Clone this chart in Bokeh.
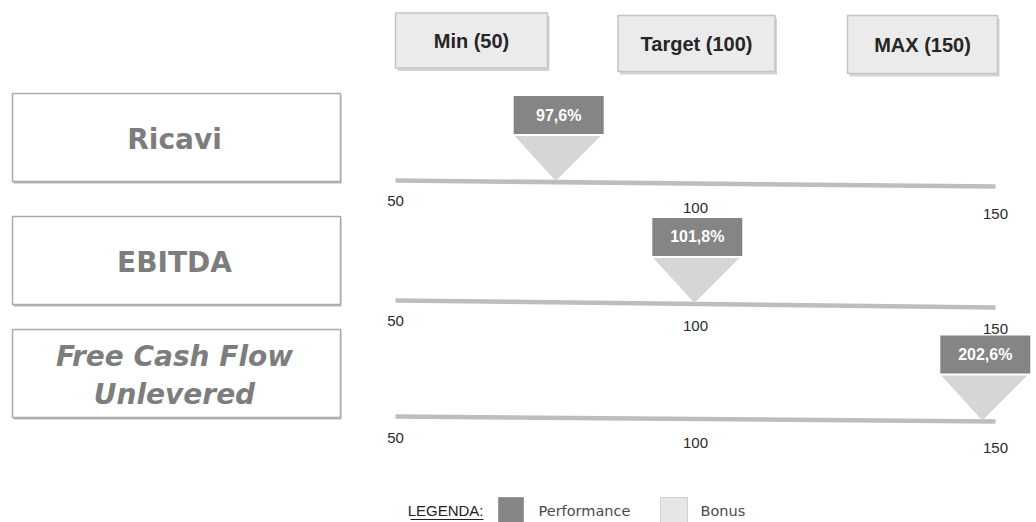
from bokeh.plotting import figure
from bokeh.models import Range1d
from bokeh.embed import file_html
from bokeh.resources import INLINE
from bokeh.core.properties import value

# ---------------- data ----------------
metrics = ["Ricavi", "EBITDA", "Free Cash Flow\nUnlevered"]
performance_labels = ["97,6%", "101,8%", "202,6%"]
bonus_positions = [76.7, 99.8, 147.8]
scale_ticks = [50, 100, 150]
tick_labels = ["50", "100", "150"]
header_labels = ["Min (50)", "Target (100)", "MAX (150)"]
legend_labels = ["Performance", "Bonus"]

# ---------------- layout / style ----------------
W, H = 1036, 522
DARK = "#858585"
LIGHT = "#d6d6d6"
LINE = "#bdbdbd"
PX = 6.0  # pixels per scale unit

def xv(px):
    # convert a horizontal page position into scale units (layout helper)
    return 50 + (px - 395) / PX

p = figure(width=W, height=H, output_backend="svg", toolbar_location=None,
           x_range=Range1d(xv(0), xv(W)), y_range=Range1d(H, 0),
           min_border=0, outline_line_color=None)
p.axis.visible = False
p.grid.visible = False
p.background_fill_color = "white"

# header boxes
header_x = [xv(471), xv(696), xv(922)]
header_y = [40, 43, 44]
header_w = [152, 157, 150]
header_h = [55, 56, 58]
p.rect(x=[x + 2 / PX for x in header_x], y=[y + 3 for y in header_y], width=header_w, height=header_h,
       width_units="screen", height_units="screen", fill_color="#d4d4d4", line_color=None)
p.rect(x=header_x, y=header_y, width=header_w, height=header_h,
       width_units="screen", height_units="screen", fill_color="#ebebeb", line_color="#c4c4c4", line_width=1.5)
p.text(x=header_x, y=header_y, text=header_labels, text_align="center", text_baseline="middle",
       text_font=value("Liberation Sans"), text_font_style="bold", text_font_size="20px",
       text_color="#262626")

# left metric boxes
box_y = [137, 260, 373]
p.rect(x=[xv(177)] * 3, y=[y + 2 for y in box_y], width=328, height=88,
       width_units="screen", height_units="screen", fill_color="#b5b5b5", line_color=None)
p.rect(x=[xv(176)] * 3, y=box_y, width=328, height=88,
       width_units="screen", height_units="screen", fill_color="white", line_color="#ababab", line_width=1.5)
styles = ["bold", "bold", "bold italic"]
for m, y, s in zip(metrics, box_y, styles):
    p.text(x=[xv(174)], y=[y + 2], text=[m], text_align="center", text_baseline="middle",
           text_font=value("DejaVu Sans"), text_font_style=s, text_font_size="28px",
           text_color="#7d7d7d", text_line_height=1.15)

# scale tracks (slightly tilted like the scanned original)
track_y0 = [180, 300, 416]
track_y1 = [186, 307, 421]
for y0, y1 in zip(track_y0, track_y1):
    p.line(x=[scale_ticks[0], scale_ticks[-1]], y=[y0, y1], line_color=LINE, line_width=4.5)

# tick labels under each track
label_dy = [[20, 27, 33], [20, 25, 28], [21, 26, 31]]
for y0, dys in zip(track_y0, label_dy):
    p.text(x=scale_ticks, y=[y0 + d for d in dys], text=tick_labels, text_align="center",
           text_baseline="middle", text_font=value("Liberation Sans"), text_font_size="15px",
           text_color="#2a2a2a")

# bonus triangles and performance boxes
TRI_H, BOX_H, BOX_W, GAP = 45, 38, 90, 2
for v, lab, y0, y1 in zip(bonus_positions, performance_labels, track_y0, track_y1):
    tip_y = y0 + (y1 - y0) * (v - 50) / 100 - 1
    top_y = tip_y - TRI_H
    half = (BOX_W - 4) / 2 / PX
    p.patch(x=[v - half + 2 / PX, v + half + 2 / PX, v], y=[top_y, top_y, tip_y],
            fill_color=LIGHT, line_color=None)
    box_c = top_y - GAP - BOX_H / 2
    bx = v + 3 / PX
    p.rect(x=[bx], y=[box_c], width=BOX_W, height=BOX_H, width_units="screen", height_units="screen",
           fill_color=DARK, line_color=None)
    p.text(x=[bx], y=[box_c], text=[lab], text_align="center", text_baseline="middle",
           text_font=value("Liberation Sans"), text_font_style="bold", text_font_size="16px",
           text_color="white")

# legend
p.text(x=[xv(483)], y=[510], text=["LEGENDA:"], text_align="right", text_baseline="middle",
       text_font=value("Liberation Sans"), text_font_size="15px", text_color="#222222")
p.line(x=[xv(410), xv(483)], y=[519, 519], line_color="#222222", line_width=1)
p.rect(x=[xv(510.5), xv(673.5)], y=[509.5, 509.5], width=[25, 27], height=25, width_units="screen",
       height_units="screen", fill_color=[DARK, "#e6e6e6"], line_color=["#9a9a9a", "#cfcfcf"])
p.text(x=[xv(538), xv(700)], y=[510, 510], text=legend_labels, text_align="left",
       text_baseline="middle", text_font=value("DejaVu Sans"), text_font_size="14.5px",
       text_color="#4a4a4a")

open("out.html", "w").write(file_html(p, INLINE))
